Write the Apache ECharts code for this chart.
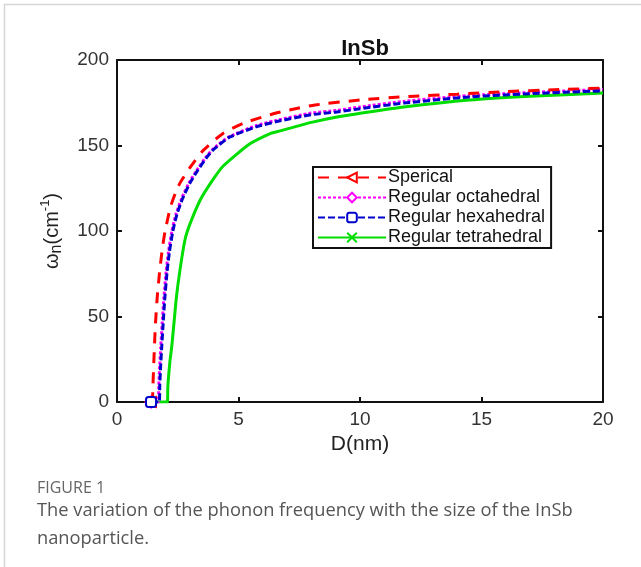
<!DOCTYPE html>
<html>
<head>
<meta charset="utf-8">
<script src="https://cdn.jsdelivr.net/npm/echarts@6/dist/echarts.min.js"></script>
<style>
  html, body { margin: 0; padding: 0; background: #fff; }
  #chart { width: 641px; height: 567px; }
</style>
</head>
<body>
<div id="chart"></div>
<script>
// D (nm) and omega_n (cm^-1)
var dSph = [1.40, 1.45, 1.48, 1.52, 1.58, 1.66, 1.76, 1.87, 1.98, 2.2, 2.4, 2.59, 3.0, 3.54, 4.36, 5.2, 6.3, 7.1, 8.15, 10, 12, 14, 16, 18, 20];
var wSph = [0, 0, 10, 25, 45, 62, 77, 90, 100, 114, 122, 128, 137, 147, 157, 163, 168, 170.8, 173.7, 176.6, 178.7, 180, 181.5, 182.6, 183.6];

var dOct = [1.40, 1.70, 1.72, 1.76, 1.80, 1.86, 1.93, 2.02, 2.12, 2.26, 2.43, 2.66, 2.96, 3.26, 3.65, 3.96, 4.6, 5.7, 6.5, 8, 9.05, 10, 11.8, 14.5, 17, 20];
var wOct = [0, 0, 10, 22, 32, 46, 61, 76, 88, 100, 110, 119, 128, 135, 143, 148, 155, 161.5, 164.5, 169, 170.5, 172.5, 175.8, 179.2, 181, 182.8];

var dHex = [1.40, 1.74, 1.76, 1.80, 1.84, 1.90, 1.97, 2.06, 2.16, 2.3, 2.47, 2.7, 3.0, 3.3, 3.69, 4.0, 4.65, 5.75, 6.57, 8, 9.05, 10, 11.8, 14.5, 17, 20];
var wHex = [0, 0, 10, 22, 32, 46, 61, 76, 88, 100, 110, 119, 128, 135, 143, 148, 155, 161, 164, 168, 169.6, 171.5, 174.8, 178.4, 180.3, 182];

var dTet = [1.40, 2.07, 2.09, 2.11, 2.18, 2.25, 2.35, 2.45, 2.6, 2.8, 3.0, 3.42, 3.9, 4.37, 5.47, 6.3, 6.57, 8, 9.05, 10, 11.8, 14.5, 17, 20];
var wTet = [0, 0, 8, 13, 24, 32, 47, 62, 78, 95, 104, 118, 129, 138, 151, 157, 158, 163.5, 166.7, 168.8, 172.5, 176.6, 178.8, 180.7];

var xTicks = [0, 5, 10, 15, 20];
var yTicks = [0, 50, 100, 150, 200];

// only the first point carries a marker, like the figure
function pts(d, w) {
  return d.map(function (x, i) {
    return i === 0 ? [x, w[i]] : { value: [x, w[i]], symbol: 'none' };
  });
}

var chart = echarts.init(document.getElementById('chart'));
var font = 'Liberation Sans, Arial, sans-serif';
var axisCol = '#111';

var option = {
  animation: false,
  backgroundColor: '#fff',
  title: {
    text: 'InSb',
    left: 360,
    top: 33,
    textAlign: 'center',
    textStyle: { fontFamily: font, fontSize: 22, fontWeight: 'bold', color: '#111' }
  },
  grid: { left: 117, top: 60, right: 38, bottom: 165, containLabel: false },
  legend: {
    orient: 'vertical',
    left: 313,
    top: 167,
    backgroundColor: '#fff',
    borderColor: '#111',
    borderWidth: 2,
    borderRadius: 0,
    padding: [1, 6, 1, 4],
    itemGap: 1,
    itemWidth: 68,
    itemHeight: 12,
    textStyle: { fontFamily: font, fontSize: 18, color: '#111', lineHeight: 19, padding: [0, 0, 0, -3] },
    data: ['Sperical', 'Regular octahedral', 'Regular hexahedral', 'Regular tetrahedral']
  },
  xAxis: [{
    type: 'value', min: 0, max: 20, interval: 5,
    name: 'D(nm)', nameLocation: 'middle', nameGap: 32,
    nameTextStyle: { fontFamily: font, fontSize: 21, color: '#222' },
    axisLine: { onZero: false, lineStyle: { color: axisCol, width: 2 } },
    axisTick: { inside: true, length: 5, lineStyle: { color: axisCol, width: 2 } },
    axisLabel: { fontFamily: font, fontSize: 19, color: '#333', margin: 8,
      formatter: function (v) { return xTicks.indexOf(v) >= 0 ? String(v) : ''; } },
    splitLine: { show: false }
  }, {
    type: 'value', min: 0, max: 20, interval: 5, position: 'top',
    axisLine: { show: true, onZero: false, lineStyle: { color: axisCol, width: 2 } },
    axisTick: { show: true, inside: true, length: 5, lineStyle: { color: axisCol, width: 2 } },
    axisLabel: { show: false },
    splitLine: { show: false }
  }],
  yAxis: [{
    type: 'value', min: 0, max: 200, interval: 50,
    name: '{w|ω}{sub|n}{t|(cm}{sup|-1}{t|)}',
    nameLocation: 'middle', nameGap: 52, nameRotate: 90,
    nameTextStyle: {
      rich: {
        w: { fontFamily: font, fontSize: 20, color: '#222' },
        sub: { fontFamily: font, fontSize: 16, color: '#222', verticalAlign: 'bottom', padding: [10, 0, 0, 0] },
        t: { fontFamily: font, fontSize: 20, color: '#222' },
        sup: { fontFamily: font, fontSize: 13, color: '#222', verticalAlign: 'top', padding: [0, 0, 8, 0] }
      }
    },
    axisLine: { onZero: false, lineStyle: { color: axisCol, width: 2 } },
    axisTick: { inside: true, length: 5, lineStyle: { color: axisCol, width: 2 } },
    axisLabel: { fontFamily: font, fontSize: 19, color: '#333', margin: 8,
      formatter: function (v) { return yTicks.indexOf(v) >= 0 ? String(v) : ''; } },
    splitLine: { show: false }
  }, {
    type: 'value', min: 0, max: 200, interval: 50, position: 'right',
    axisLine: { show: true, onZero: false, lineStyle: { color: axisCol, width: 2 } },
    axisTick: { show: true, inside: true, length: 5, lineStyle: { color: axisCol, width: 2 } },
    axisLabel: { show: false },
    splitLine: { show: false }
  }],
  series: [{
    name: 'Sperical', type: 'line', data: pts(dSph, wSph), smooth: 0.2,
    symbol: 'triangle', symbolRotate: 90, symbolSize: 10, showSymbol: true,
    itemStyle: { color: '#fff', borderColor: '#ff0000', borderWidth: 2 },
    lineStyle: { color: '#ff0000', width: 3, type: [11, 9] }, z: 4
  }, {
    name: 'Regular octahedral', type: 'line', data: pts(dOct, wOct), smooth: 0.2,
    symbol: 'diamond', symbolSize: 11, showSymbol: true,
    itemStyle: { color: '#fff', borderColor: '#ff00ff', borderWidth: 2 },
    lineStyle: { color: '#ff00ff', width: 3, type: [3, 2] }, z: 3
  }, {
    name: 'Regular hexahedral', type: 'line', data: pts(dHex, wHex), smooth: 0.2,
    symbol: 'roundRect', symbolSize: 10, showSymbol: true,
    itemStyle: { color: '#fff', borderColor: '#0000cc', borderWidth: 2 },
    lineStyle: { color: '#0000cc', width: 3, type: [7, 3] }, z: 5
  }, {
    name: 'Regular tetrahedral', type: 'line', data: pts(dTet, wTet), smooth: 0.2,
    symbol: 'path://M0,0L10,10M10,0L0,10', symbolSize: 8, showSymbol: true,
    itemStyle: { color: '#00dd00', borderColor: '#00dd00', borderWidth: 2 },
    lineStyle: { color: '#00dd00', width: 3 }, z: 2
  }],
  graphic: [{
    type: 'rect', z: -10, silent: true,
    shape: { x: 4.5, y: 4.5, width: 680, height: 620 },
    style: { fill: 'none', stroke: '#d6d6d6', lineWidth: 1.5 }
  }, {
    type: 'text', left: 37, top: 480,
    style: { text: 'FIGURE 1', fill: '#666', font: '16px "Open Sans", sans-serif' }
  }, {
    type: 'text', left: 37, top: 497,
    style: {
      text: 'The variation of the phonon frequency with the size of the InSb\nnanoparticle.',
      fill: '#555', font: '18.3px "Open Sans", sans-serif', lineHeight: 28
    }
  }]
};
chart.setOption(option);
</script>
</body>
</html>
